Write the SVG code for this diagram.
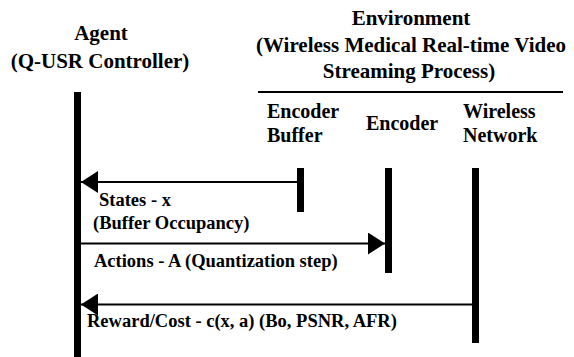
<svg xmlns="http://www.w3.org/2000/svg" width="574" height="357" viewBox="0 0 574 357">
  <style>
    text { font-family: 'Liberation Serif', 'Times New Roman', Times, 'DejaVu Serif', serif; font-weight: 700; fill: #000; }
    .head { font-size: 21px; text-anchor: middle; }
    .col { font-size: 20px; }
    .lbl { font-size: 18.5px; }
    .bar { fill: #000; }
    .msg { stroke: #000; stroke-width: 1.8; fill: none; }
  </style>
  <defs>
    <marker id="arrow" markerUnits="userSpaceOnUse" markerWidth="18" markerHeight="22" refX="17" refY="11" orient="auto">
      <path d="M0,0 L17,11 L0,22 z" fill="#000"/>
    </marker>
  </defs>

  <rect width="574" height="357" fill="#fff"/>

  <!-- Agent lifeline -->
  <g id="agent">
    <text class="head" x="101" y="40" font-family="Liberation Serif, serif">Agent</text>
    <text class="head" x="100" y="68" font-family="Liberation Serif, serif">(Q-USR Controller)</text>
    <rect class="bar" x="74" y="92" width="7" height="265"/>
  </g>

  <!-- Environment heading -->
  <g id="environment">
    <text class="head" x="411" y="25">Environment</text>
    <text class="head" x="411" y="52">(Wireless Medical Real-time Video</text>
    <text class="head" x="409" y="78">Streaming Process)</text>
    <line x1="258" y1="92" x2="563" y2="92" stroke="#000" stroke-width="2"/>
  </g>

  <g id="encoder-buffer">
    <text class="col" x="267" y="118">Encoder</text>
    <text class="col" x="267" y="142">Buffer</text>
    <rect class="bar" x="297" y="168" width="7" height="44"/>
  </g>

  <g id="encoder">
    <text class="col" x="366" y="130">Encoder</text>
    <rect class="bar" x="385" y="168" width="7" height="105"/>
  </g>

  <g id="wireless-network">
    <text class="col" x="463" y="118">Wireless</text>
    <text class="col" x="463" y="142">Network</text>
    <rect class="bar" x="472" y="168" width="7" height="175"/>
  </g>

  <!-- Messages between agent and environment -->
  <g id="connectors">
    <line class="msg" x1="297" y1="182" x2="81" y2="182" marker-end="url(#arrow)"/>
    <line class="msg" x1="81" y1="243.5" x2="385" y2="243.5" marker-end="url(#arrow)"/>
    <line class="msg" x1="472" y1="304.5" x2="81" y2="304.5" marker-end="url(#arrow)"/>
  </g>

  <g id="labels">
    <text class="lbl" x="99" y="206">States - x</text>
    <text class="lbl" x="93" y="229">(Buffer Occupancy)</text>
    <text class="lbl" x="94" y="267">Actions - A (Quantization step)</text>
    <text class="lbl" x="87" y="327">Reward/Cost - c(x, a) (Bo, PSNR, AFR)</text>
  </g>
</svg>
